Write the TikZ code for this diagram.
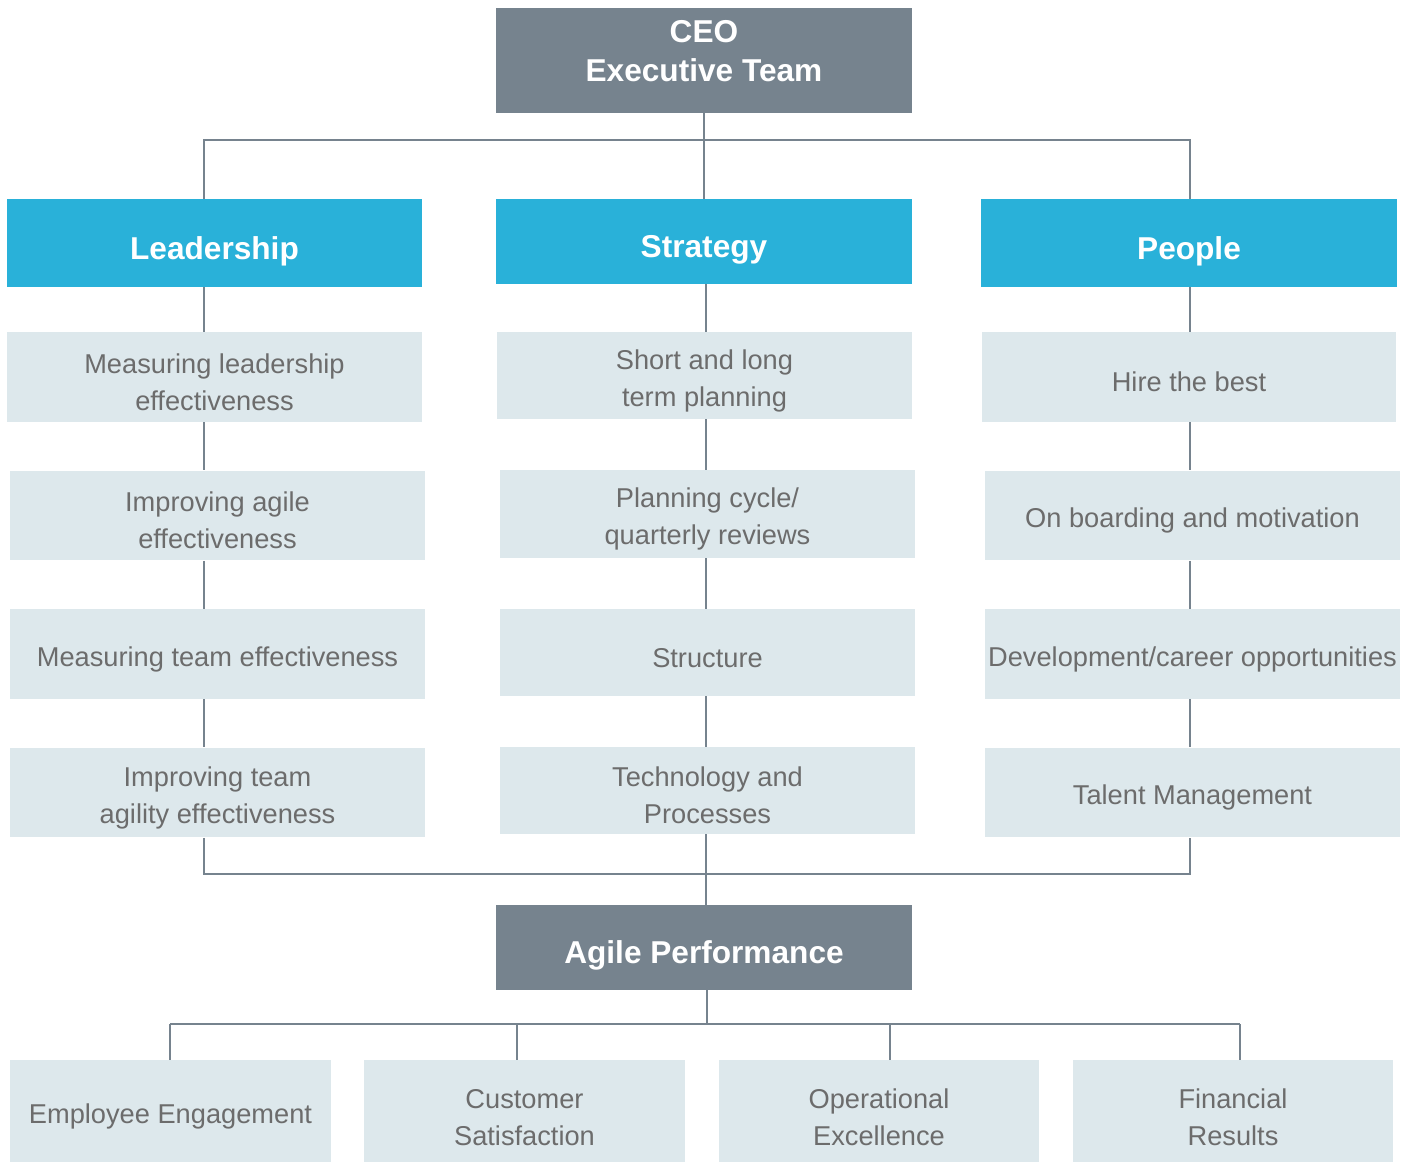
\documentclass[tikz,border=0pt]{standalone}
\usepackage{fontspec}
\setmainfont{Liberation Sans}
\usetikzlibrary{positioning}
\definecolor{slate}{HTML}{76838E}
\definecolor{sky}{HTML}{29B1D9}
\definecolor{mist}{HTML}{DDE8EC}
\definecolor{ink}{HTML}{6C6C6C}
\begin{document}
\begin{tikzpicture}[x=0.02cm,y=-0.02cm,
    head/.style={fill=slate,text=white,align=center,inner sep=0pt,
      font=\bfseries\fontsize{18}{22}\selectfont,minimum width=8.32cm},
    pillar/.style={fill=sky,text=white,align=center,inner sep=0pt,
      font=\bfseries\fontsize{18}{22}\selectfont,minimum width=8.32cm,minimum height=1.76cm,
      execute at begin node={\rule{0pt}{22pt}}},
    item/.style={fill=mist,text=ink,align=center,inner sep=0pt,
      font=\fontsize{15.5}{21}\selectfont,minimum width=8.3cm,minimum height=1.8cm,
      execute at begin node={\rule{0pt}{#1}}},
    item/.default=17pt,
    result/.style={fill=mist,text=ink,align=center,inner sep=0pt,
      font=\fontsize{15.5}{21}\selectfont,minimum width=6.42cm,minimum height=2.04cm,
      execute at begin node={\rule{0pt}{#1}}},
    result/.default=18pt,
    link/.style={draw=slate,line width=1.4pt}]
  \useasboundingbox (0,0) rectangle (1414,1162);
  % bus points
  \coordinate (colL) at (204,0);
  \coordinate (colS) at (706,0);
  \coordinate (colP) at (1190,0);
  \coordinate (topbus) at (704,140);
  \coordinate (lowbus) at (706,874);
  \coordinate (outbus) at (707,1024);
  \coordinate (d1) at (170,1024);
  \coordinate (d2) at (517,1024);
  \coordinate (d3) at (890,1024);
  \coordinate (d4) at (1240,1024);

  % top
  \node[head,minimum height=2.1cm,execute at end node={\rule[-11pt]{0pt}{11pt}}] (ceo) at (704,60.5) {CEO\\Executive Team};
  \node[pillar] (lead)   at (214.5,243)   {Leadership};
  \node[pillar,minimum height=1.7cm] (strat) at (704,241.5) {Strategy};
  \node[pillar] (people) at (1189,243)    {People};

  % leadership column
  \node[item=38pt] (L1) at (214.5,377)   {Measuring leadership\\effectiveness};
  \node[item=38pt] (L2) at (217.5,515.5) {Improving agile\\effectiveness};
  \node[item]      (L3) at (217.5,654)   {Measuring team effectiveness};
  \node[item=38pt] (L4) at (217.5,792.5) {Improving team\\agility effectiveness};

  % strategy column
  \node[item=38pt,minimum height=1.74cm] (S1) at (704.5,375.5) {Short and long\\term planning};
  \node[item=38pt,minimum height=1.76cm] (S2) at (707.5,514)   {Planning cycle/\\quarterly reviews};
  \node[item,minimum height=1.74cm]      (S3) at (707.5,652.5) {Structure};
  \node[item=38pt,minimum height=1.74cm] (S4) at (707.5,790.5) {Technology and\\Processes};

  % people column
  \node[item] (P1) at (1189,377)     {Hire the best};
  \node[item] (P2) at (1192.5,515.5) {On boarding and motivation};
  \node[item] (P3) at (1192.5,654)   {Development/career opportunities};
  \node[item] (P4) at (1192.5,792.5) {Talent Management};

  % bottom
  \node[head,minimum height=1.7cm,execute at begin node={\rule{0pt}{22pt}}] (agile) at (704,947.5) {Agile Performance};
  \node[result]        (B1) at (170.5,1111) {Employee Engagement};
  \node[result=39.5pt] (B2) at (524.5,1111) {Customer\\Satisfaction};
  \node[result=39.5pt] (B3) at (879,1111)   {Operational\\Excellence};
  \node[result=39.5pt] (B4) at (1233,1111)  {Financial\\Results};

  \draw[link] (ceo.south) -- (topbus);
  \draw[link] (lead.north -| colL) |- (topbus) -| (people.north -| colP);
  \draw[link] (topbus) -- (strat.north);

  \draw[link] (lead.south -| colL) -- (L1.north -| colL);
  \draw[link] (strat.south -| colS) -- (S1.north -| colS);
  \draw[link] (people.south -| colP) -- (P1.north -| colP);
  \foreach \a/\b in {1/2,2/3,3/4} {
    \draw[link] (L\a.south -| colL) -- (L\b.north -| colL);
    \draw[link] (S\a.south -| colS) -- (S\b.north -| colS);
    \draw[link] (P\a.south -| colP) -- (P\b.north -| colP);
  }

  \draw[link] (L4.south -| colL) |- (lowbus) -| (P4.south -| colP);
  \draw[link] (S4.south -| colS) -- (agile.north -| colS);

  \draw[link] (agile.south -| outbus) -- (outbus);
  \draw[link] (d1) -- (d4);
  \foreach \i in {1,...,4}
    \draw[link] (d\i) -- (B\i.north -| d\i);
\end{tikzpicture}
\end{document}
